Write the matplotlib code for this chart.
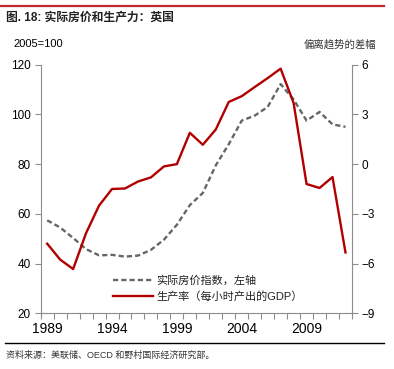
import numpy as np
import matplotlib
matplotlib.use('Agg')
import matplotlib.pyplot as plt
from matplotlib.lines import Line2D

plt.rcParams['font.family'] = ['Liberation Sans', 'Noto Sans CJK SC', 'DejaVu Sans']

years = list(range(1989, 2013))
# real house price index, 2005=100 (left axis)
house_price = [57.4, 54.5, 50.3, 45.8, 43.3, 43.5, 42.8, 43.2, 45.5, 49.6, 55.6, 63.5,
               68.4, 79.5, 88.0, 97.5, 99.5, 103.0, 112.2, 106.0, 97.5, 101.0, 96.0, 95.0]
# productivity, deviation from trend (right axis)
productivity = [-4.8, -5.76, -6.33, -4.16, -2.5, -1.5, -1.47, -1.05, -0.8, -0.14, 0.0, 1.89,
                1.17, 2.09, 3.75, 4.1, 4.65, 5.19, 5.76, 3.69, -1.2, -1.44, -0.78, -5.33]
label_years = [1989, 1994, 1999, 2004, 2009]

red = '#B00000'
grey = '#666666'
spine_c = '#8c8c8c'

fig = plt.figure(figsize=(3.94, 3.69), dpi=100)
ax = fig.add_axes([0.1033, 0.151, 0.79, 0.6737])
ax2 = ax.twinx()

x = np.arange(len(years))
ax.plot(x, house_price, color=grey, lw=1.7, dashes=(2.2, 1.3))
ax2.plot(x, productivity, color=red, lw=1.7)

ax.set_xlim(-0.5, len(years) - 0.5)
ax.set_ylim(20, 120)
ax.set_yticks(range(20, 121, 20))
ax2.set_ylim(-9, 6)
ax2.set_yticks(range(-9, 7, 3))

# category boundaries as ticks, labels at category centres
ax.set_xticks(np.arange(-0.5, len(years), 1.0))
ax.set_xticklabels([])
ax.set_xticks([years.index(y) for y in label_years], minor=True)
ax.set_xticklabels([str(y) for y in label_years], minor=True)
ax.tick_params(axis='x', which='minor', length=0, pad=6)
ax.tick_params(axis='x', which='major', length=4, direction='out', color=spine_c)

for a in (ax, ax2):
    a.spines['top'].set_visible(False)
    for s in ('left', 'right', 'bottom'):
        a.spines[s].set_color(spine_c)
    a.tick_params(axis='y', length=4, color=spine_c, labelsize=8.5, pad=3)
    a.tick_params(axis='x', labelsize=8.5)
ax.spines['right'].set_visible(False)
ax2.spines['left'].set_visible(False)
ax2.spines['bottom'].set_visible(False)

handles = [Line2D([], [], color=grey, lw=1.7, dashes=(2.2, 1.3)),
           Line2D([], [], color=red, lw=1.7)]
labels = ['实际房价指数，左轴', '生产率（每小时产出的GDP）']
ax2.legend(handles, labels, loc='lower left', bbox_to_anchor=(0.2, 0.005), frameon=False,
           fontsize=8, handlelength=3.6, handletextpad=0.3, labelspacing=0.45,
           labelcolor='#222222')

# header and footer
fig.add_artist(Line2D([0.0, 0.975], [1 - 6 / 369, 1 - 6 / 369], color='#C0282D', lw=1.6))
fig.text(0.015, 1 - 18 / 369, '图. 18: 实际房价和生产力：英国', fontsize=8.5,
         fontweight='bold', va='center', ha='left', color='#222222')
fig.text(0.033, 1 - 44 / 369, '2005=100', fontsize=8, va='center', ha='left')
fig.text(0.955, 1 - 45 / 369, '偏离趋势的差幅', fontsize=7.5, va='center', ha='right',
         color='#333333')
fig.add_artist(Line2D([0.013, 0.975], [1 - 343 / 369, 1 - 343 / 369], color='black', lw=1.0))
fig.text(0.015, 1 - 355 / 369, '资料来源：美联储、OECD 和野村国际经济研究部。', fontsize=6.5,
         va='center', ha='left', color='#333333')

fig.savefig('out.png', dpi=100)
